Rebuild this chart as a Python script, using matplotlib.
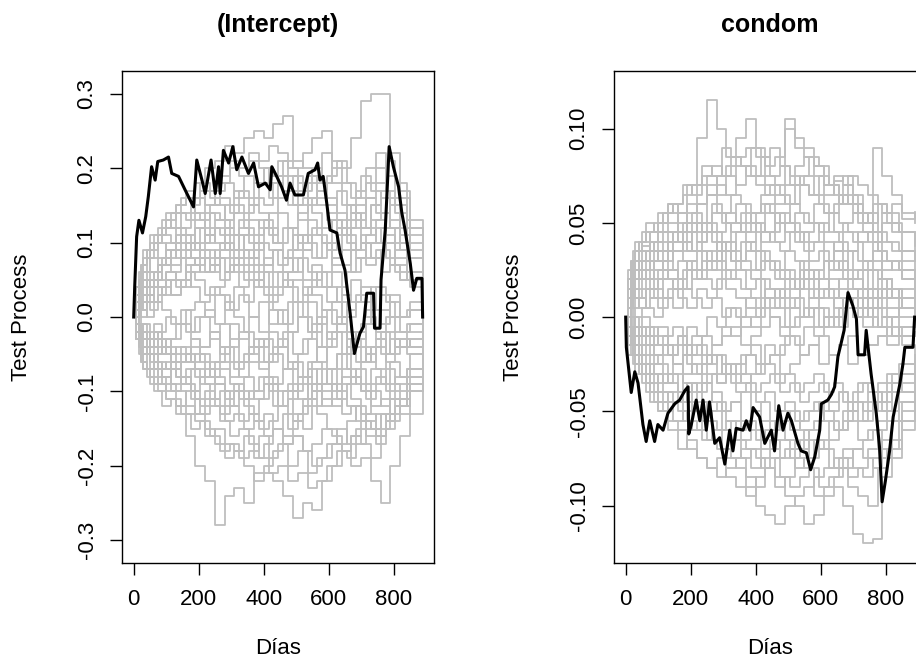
import numpy as np
import matplotlib
matplotlib.use("Agg")
import matplotlib.pyplot as plt

plt.rcParams['font.family'] = ['Liberation Sans', 'DejaVu Sans']

# two event-time grids for the grey (resampled) paths
grid_a = [0, 15, 30, 50, 75, 100, 130, 160, 190, 220, 250, 280, 310, 340, 370, 400,
          430, 460, 490, 520, 550, 580, 610, 640, 670, 700, 730, 760, 790, 820, 850, 889]
grid_b = [0, 8, 22, 40, 62, 88, 115, 145, 175, 205, 235, 265, 295, 325, 355, 385,
          415, 445, 475, 505, 535, 565, 595, 625, 655, 685, 715, 745, 775, 805, 840, 889]

# (Intercept) simulated paths, in hundredths
grey_left_a = [
    [0, 6, 9, 11, 12, 14, 15, 17, 18, 20, 21, 23, 22, 24, 25, 24, 26, 27, 21, 20, 19, 22, 18, 15, 14, 12, 15, 16, 12, 9, 6, 4],
    [0, 2, 4, 5, 7, 8, 10, 9, 12, 11, 13, 12, 15, 14, 16, 15, 18, 17, 19, 17, 20, 18, 21, 20, 24, 29, 30, 30, 22, 16, 12, 7],
    [0, 5, 8, 10, 11, 12, 14, 13, 16, 15, 17, 18, 16, 19, 18, 20, 19, 21, 20, 22, 24, 25, 20, 18, 16, 19, 17, 14, 12, 10, 8, 5],
    [0, -5, -7, -8, -9, -11, -13, -16, -20, -22, -28, -24, -23, -25, -21, -20, -18, -16, -14, -15, -12, -10, -12, -9, -8, -10, -7, -9, -6, -8, -5, -4],
    [0, -2, -4, -6, -8, -9, -10, -12, -13, -15, -17, -19, -18, -20, -22, -21, -22, -24, -27, -25, -26, -22, -20, -18, -16, -17, -19, -15, -13, -11, -9, -7],
    [0, -1, -3, -4, -6, -7, -8, -9, -11, -10, -12, -14, -13, -15, -14, -16, -15, -17, -16, -18, -17, -15, -16, -18, -20, -19, -22, -25, -20, -16, -13, -8],
    [0, 3, 6, 9, 11, 13, 15, 16, 14, 17, 15, 13, 14, 12, 11, 13, 10, 12, 9, 11, 8, 10, 7, 9, 6, 8, 10, 12, 13, 11, 8, 5],
    [0, 2, 3, 5, 4, 6, 5, 7, 8, 6, 9, 10, 8, 11, 9, 12, 10, 8, 11, 9, 12, 10, 13, 11, 14, 12, 15, 17, 15, 12, 9, 4],
    [0, -2, -1, -3, -2, 0, -1, 1, 2, 0, 3, 1, 4, 2, 5, 3, 1, -1, 2, 0, -2, 1, -1, 3, 2, 4, 1, 3, 0, -2, -1, -3],
    [0, 1, 3, 2, 4, 6, 5, 8, 7, 9, 8, 6, 7, 5, 4, 6, 3, 5, 2, 4, 3, 1, 2, 0, -2, -1, 1, -1, 2, 0, 1, 0],
    [0, -4, -7, -9, -10, -11, -12, -10, -13, -11, -9, -12, -10, -8, -11, -9, -12, -10, -13, -11, -9, -12, -10, -8, -11, -13, -10, -12, -9, -11, -8, -6],
    [0, -2, -4, -5, -7, -6, -8, -7, -5, -8, -6, -4, -7, -5, -3, -6, -4, -2, -5, -3, -1, -4, -2, -5, -3, -6, -4, -2, -5, -3, -4, -2],
    [0, 2, 4, 6, 8, 10, 12, 11, 13, 10, 12, 9, 11, 8, 10, 7, 9, 6, 8, 5, 7, 4, 6, 3, 5, 2, 4, 1, 3, 0, 2, 1],
    [0, -1, -2, -4, -3, -5, -4, -6, -8, -7, -9, -11, -10, -12, -14, -13, -15, -17, -16, -18, -20, -19, -17, -18, -16, -14, -15, -13, -11, -13, -10, -7],
    [0, 4, 6, 8, 10, 9, 11, 10, 12, 14, 13, 15, 17, 16, 18, 20, 19, 17, 15, 16, 14, 12, 13, 11, 9, 10, 8, 6, 7, 5, 4, 2],
    [0, -2, -3, -5, -4, -3, -1, -2, 0, 1, -1, 2, 0, -2, -4, -3, -5, -7, -6, -8, -10, -9, -11, -13, -12, -14, -15, -13, -11, -12, -9, -7],
    [0, 3, 5, 4, 7, 9, 8, 10, 9, 11, 10, 12, 11, 9, 7, 8, 6, 4, 5, 3, 5, 6, 8, 7, 9, 11, 13, 14, 16, 17, 12, 9],
    [0, -2, -5, -7, -9, -10, -12, -13, -14, -16, -15, -17, -18, -16, -19, -17, -15, -13, -14, -12, -10, -11, -9, -7, -8, -6, -4, -5, -3, -4, -3, -2],
    [0, 1, 2, 1, 3, 5, 4, 6, 5, 3, 4, 6, 8, 7, 5, 7, 9, 8, 6, 9, 11, 10, 8, 11, 12, 10, 8, 9, 7, 5, 6, 3],
    [0, -1, -3, -2, -5, -4, -6, -5, -7, -9, -8, -10, -9, -11, -10, -8, -9, -7, -10, -8, -6, -9, -7, -5, -8, -10, -12, -11, -14, -12, -10, -8],
]
grey_left_b = [
    [0, 4, 7, 9, 10, 11, 10, 12, 14, 13, 15, 16, 14, 17, 15, 18, 16, 19, 17, 15, 18, 16, 14, 17, 15, 13, 16, 14, 12, 10, 8, 6],
    [0, -3, -6, -7, -6, -7, -9, -8, -10, -12, -11, -13, -12, -10, -13, -11, -9, -12, -10, -8, -11, -9, -7, -10, -12, -14, -16, -13, -15, -12, -9, -6],
    [0, 1, 3, 5, 6, 8, 7, 9, 8, 10, 12, 11, 9, 12, 10, 13, 11, 14, 12, 10, 13, 11, 9, 12, 10, 8, 11, 13, 10, 8, 6, 3],
    [0, -1, -2, -3, -5, -4, -6, -5, -3, -4, -2, -5, -3, -6, -4, -7, -5, -3, -6, -8, -6, -4, -7, -5, -3, -6, -4, -7, -5, -3, -4, -3],
    [0, 3, 6, 8, 10, 12, 14, 16, 15, 17, 16, 18, 20, 19, 21, 20, 18, 21, 19, 17, 16, 18, 15, 13, 15, 17, 20, 22, 19, 15, 11, 7],
    [0, -3, -5, -8, -10, -12, -11, -13, -15, -14, -16, -18, -17, -19, -18, -16, -19, -17, -20, -18, -21, -19, -17, -15, -17, -15, -13, -16, -14, -12, -10, -6],
    [0, 2, 1, 3, 2, 4, 3, 5, 4, 2, 4, 3, 1, 3, 0, 2, -1, 1, -2, 0, 2, -1, 1, -1, 1, 3, 1, 4, 2, 0, 1, -1],
    [0, -1, 1, 0, 2, 1, -1, 1, -2, 0, -3, -1, -4, -2, -5, -3, -6, -4, -7, -5, -3, -6, -4, -2, -5, -3, -1, -3, -5, -3, -2, -1],
    [0, 4, 7, 9, 11, 13, 12, 14, 16, 18, 17, 19, 21, 20, 22, 21, 23, 22, 20, 18, 19, 17, 19, 21, 18, 16, 18, 20, 17, 14, 10, 6],
    [0, -2, -3, -5, -7, -8, -10, -9, -7, -9, -11, -10, -12, -14, -13, -15, -14, -12, -15, -13, -11, -13, -15, -17, -14, -12, -14, -16, -13, -10, -8, -5],
    [0, 1, 2, 4, 5, 7, 6, 8, 10, 9, 7, 9, 8, 6, 8, 10, 9, 7, 9, 11, 10, 8, 10, 12, 11, 9, 7, 9, 11, 9, 6, 4],
    [0, -2, -4, -3, -1, -3, -5, -4, -6, -4, -2, -4, -1, -3, 0, -2, 1, -1, 2, 0, -2, 0, -3, -1, -4, -2, -5, -3, -6, -4, -5, -3],
    [0, 3, 5, 4, 6, 5, 3, 5, 7, 6, 8, 10, 9, 11, 13, 12, 14, 16, 15, 13, 15, 17, 16, 14, 12, 14, 16, 18, 21, 18, 13, 8],
    [0, -1, -3, -5, -6, -8, -7, -9, -11, -13, -12, -14, -16, -15, -17, -19, -21, -20, -22, -21, -23, -22, -20, -18, -19, -17, -15, -17, -14, -12, -9, -6],
    [0, 2, 4, 3, 5, 7, 9, 8, 10, 8, 6, 8, 6, 4, 6, 4, 2, 4, 6, 8, 6, 4, 2, 4, 6, 8, 10, 12, 10, 7, 5, 2],
    [0, -2, -1, -3, -2, -4, -3, -1, -3, -5, -7, -6, -8, -6, -4, -6, -8, -10, -9, -11, -9, -7, -9, -11, -9, -7, -9, -8, -10, -8, -7, -5],
    [0, 3, 4, 6, 5, 7, 9, 11, 10, 12, 14, 13, 11, 13, 15, 14, 12, 10, 12, 14, 16, 15, 13, 11, 13, 15, 12, 10, 8, 6, 5, 3],
    [0, -3, -6, -7, -9, -8, -6, -8, -10, -8, -6, -4, -6, -8, -6, -4, -2, -4, -2, 0, -2, -4, -2, 0, -2, -4, -6, -4, -2, -4, -3, -2],
    [0, 1, 0, 2, 4, 3, 5, 4, 6, 8, 7, 5, 7, 9, 8, 6, 4, 6, 4, 2, 4, 6, 4, 2, 0, 2, 0, -2, 0, -2, -1, 0],
    [0, -1, -2, -4, -3, -5, -7, -6, -4, -6, -8, -7, -9, -11, -10, -8, -10, -12, -11, -9, -7, -9, -7, -5, -7, -9, -11, -9, -7, -9, -7, -5],
]

# condom simulated paths, in thousandths
grey_right_a = [
    [0, 20, 30, 35, 40, 45, 50, 55, 70, 95, 115, 100, 85, 95, 105, 90, 80, 85, 100, 90, 85, 80, 70, 65, 60, 55, 50, 60, 55, 50, 45, 38],
    [0, 25, 35, 40, 45, 55, 60, 50, 45, 60, 75, 70, 65, 80, 75, 70, 65, 60, 70, 80, 85, 75, 65, 75, 70, 60, 55, 90, 75, 65, 55, 50],
    [0, 30, 40, 38, 35, 40, 45, 55, 60, 70, 65, 75, 80, 85, 90, 85, 75, 70, 105, 95, 90, 80, 70, 72, 75, 60, 50, 45, 55, 60, 52, 56],
    [0, -10, -15, -20, -30, -40, -45, -50, -55, -60, -65, -70, -75, -80, -90, -100, -105, -110, -100, -95, -90, -85, -80, -75, -70, -80, -85, -75, -65, -55, -45, -35],
    [0, -5, -10, -15, -20, -25, -35, -40, -45, -50, -55, -60, -55, -65, -70, -75, -80, -85, -95, -100, -110, -105, -95, -90, -100, -115, -120, -118, -85, -75, -50, -30],
    [0, -15, -25, -30, -40, -50, -60, -70, -65, -75, -80, -85, -80, -75, -85, -90, -80, -75, -70, -80, -75, -65, -70, -80, -75, -70, -65, -60, -70, -65, -55, -32],
    [0, 20, 25, 30, 35, 30, 40, 45, 35, 40, 50, 45, 55, 50, 45, 55, 60, 50, 45, 55, 50, 60, 55, 45, 50, 55, 45, 40, 50, 45, 35, 30],
    [0, 10, 15, 20, 15, 25, 20, 30, 25, 20, 30, 35, 25, 30, 40, 35, 30, 25, 35, 30, 20, 25, 30, 35, 25, 20, 15, 25, 20, 15, 10, 12],
    [0, -5, 0, 5, 10, 5, 15, 10, 5, 15, 10, 20, 15, 10, 5, 0, 10, 5, -5, 0, 5, -5, 0, 10, 5, 0, -5, 5, 0, -10, -5, -2],
    [0, 5, -5, 0, -10, -5, -15, -10, -20, -15, -25, -20, -30, -25, -20, -30, -25, -35, -30, -40, -35, -30, -40, -35, -45, -40, -35, -45, -40, -30, -25, -20],
    [0, -10, -15, -25, -30, -35, -30, -40, -35, -45, -50, -45, -55, -60, -55, -65, -60, -55, -65, -70, -60, -55, -50, -60, -55, -45, -50, -40, -45, -35, -30, -25],
    [0, 15, 25, 20, 30, 35, 25, 20, 30, 25, 35, 30, 20, 25, 15, 20, 10, 15, 5, 10, 0, 5, -5, 0, 10, 5, 15, 10, 20, 15, 10, 5],
    [0, -5, -10, -5, -15, -10, -20, -15, -5, -10, 0, -5, 5, 0, 10, 5, 15, 10, 20, 15, 25, 20, 30, 25, 20, 15, 25, 30, 20, 10, 5, 0],
    [0, 10, 20, 30, 40, 50, 55, 45, 50, 40, 45, 35, 40, 30, 35, 25, 30, 20, 25, 15, 20, 10, 15, 5, 10, 0, 5, -5, 0, -10, -15, -20],
    [0, -20, -30, -35, -45, -50, -40, -45, -35, -40, -30, -35, -25, -30, -20, -25, -15, -20, -10, -15, -5, -10, 0, -5, 5, 0, 10, 5, 15, 10, 5, 0],
    [0, 15, 20, 25, 30, 35, 40, 45, 55, 60, 70, 65, 75, 70, 80, 75, 70, 65, 60, 70, 75, 65, 55, 60, 70, 65, 55, 45, 40, 35, 30, 20],
    [0, -10, -20, -30, -35, -45, -55, -60, -70, -75, -80, -75, -85, -90, -95, -85, -80, -90, -85, -75, -80, -95, -90, -85, -80, -70, -75, -80, -75, -70, -60, -40],
    [0, 5, 10, 15, 10, 20, 25, 15, 30, 35, 25, 40, 35, 45, 40, 50, 45, 55, 50, 40, 45, 50, 40, 35, 45, 40, 30, 35, 25, 30, 20, 15],
    [0, -5, -5, -10, -5, -15, -20, -10, -25, -30, -20, -35, -30, -40, -35, -45, -40, -50, -45, -55, -50, -45, -55, -60, -50, -45, -55, -40, -50, -35, -40, -25],
    [0, 30, 35, 45, 40, 50, 60, 55, 45, 50, 65, 55, 50, 60, 50, 45, 55, 40, 50, 45, 35, 40, 30, 40, 35, 25, 30, 40, 30, 25, 20, 10],
]
grey_right_b = [
    [0, 15, 25, 30, 35, 40, 35, 45, 40, 50, 45, 55, 50, 45, 55, 50, 40, 45, 55, 50, 45, 40, 50, 45, 40, 35, 45, 40, 35, 30, 25, 20],
    [0, -10, -15, -20, -25, -30, -35, -30, -40, -35, -45, -40, -50, -45, -55, -50, -45, -55, -50, -60, -55, -50, -45, -50, -40, -45, -35, -40, -45, -35, -30, -25],
    [0, 10, 20, 25, 20, 30, 25, 35, 30, 25, 35, 30, 40, 35, 30, 25, 35, 30, 25, 20, 30, 25, 20, 30, 25, 35, 30, 25, 20, 15, 10, 5],
    [0, -5, -10, -15, -10, -20, -15, -25, -20, -30, -25, -20, -30, -25, -35, -30, -25, -20, -30, -25, -20, -15, -25, -20, -15, -10, -20, -15, -10, -5, -10, -8],
    [0, 20, 30, 40, 45, 50, 55, 60, 65, 70, 75, 80, 75, 85, 80, 75, 85, 90, 80, 75, 70, 65, 75, 70, 60, 65, 55, 50, 60, 55, 45, 35],
    [0, -15, -20, -25, -35, -40, -45, -55, -50, -60, -55, -65, -70, -65, -75, -70, -80, -75, -85, -90, -85, -80, -90, -85, -80, -90, -95, -100, -80, -70, -55, -40],
    [0, 5, 10, 5, 15, 10, 20, 15, 25, 20, 30, 25, 35, 30, 25, 20, 30, 25, 20, 15, 25, 20, 15, 10, 20, 15, 10, 5, 15, 10, 5, 2],
    [0, -5, 0, -10, -5, -15, -10, -5, -15, -10, -20, -15, -10, -5, -15, -10, -5, 0, -10, -5, 0, 5, -5, 0, 5, 10, 0, 5, -5, 0, -5, -3],
    [0, 25, 35, 40, 50, 45, 55, 60, 70, 65, 80, 75, 90, 85, 80, 90, 85, 75, 80, 70, 75, 85, 80, 70, 65, 75, 70, 65, 60, 50, 45, 40],
    [0, -20, -25, -30, -40, -45, -50, -45, -55, -60, -65, -60, -70, -75, -70, -80, -75, -70, -65, -75, -70, -60, -65, -55, -60, -50, -55, -45, -50, -40, -35, -28],
    [0, 10, 15, 10, 20, 15, 10, 20, 15, 25, 20, 15, 25, 20, 15, 10, 20, 15, 10, 5, 15, 10, 20, 15, 10, 5, 15, 10, 5, 0, 5, 3],
    [0, -10, -5, -15, -10, -20, -15, -25, -30, -25, -35, -30, -25, -35, -30, -40, -35, -30, -40, -35, -45, -40, -35, -45, -40, -50, -45, -40, -35, -30, -25, -20],
    [0, 15, 20, 25, 30, 25, 35, 40, 35, 45, 50, 45, 40, 50, 45, 55, 60, 55, 50, 60, 55, 50, 45, 55, 50, 45, 40, 45, 35, 30, 25, 15],
    [0, -5, -15, -20, -15, -25, -30, -25, -35, -40, -35, -45, -50, -45, -40, -50, -55, -60, -55, -50, -60, -65, -70, -65, -60, -55, -65, -60, -55, -50, -40, -30],
    [0, 5, 15, 20, 25, 20, 30, 35, 40, 35, 45, 40, 35, 30, 40, 35, 45, 40, 35, 45, 40, 30, 35, 25, 30, 20, 25, 15, 20, 10, 15, 10],
    [0, -10, -20, -25, -30, -25, -20, -25, -15, -20, -10, -15, -5, -10, 0, -5, 5, 0, -5, 5, 0, 10, 5, 0, -5, 5, 10, 0, -5, -10, -5, -5],
    [0, 20, 25, 35, 30, 40, 45, 40, 50, 55, 50, 60, 55, 65, 60, 55, 65, 70, 65, 60, 70, 65, 60, 55, 65, 60, 50, 55, 45, 40, 35, 30],
    [0, -15, -20, -30, -35, -30, -40, -45, -40, -50, -55, -50, -60, -55, -65, -60, -70, -65, -75, -70, -65, -75, -70, -80, -75, -85, -80, -70, -60, -55, -45, -35],
    [0, 0, 5, 10, 5, 0, 10, 5, 15, 10, 5, 10, 0, 5, -5, 0, 10, 5, 15, 10, 20, 15, 10, 20, 15, 10, 5, 15, 10, 5, 0, 0],
    [0, -5, -10, -5, -15, -20, -15, -25, -20, -15, -25, -20, -30, -25, -20, -15, -25, -20, -15, -10, -20, -15, -10, -20, -15, -25, -20, -15, -10, -15, -10, -10],
]

# observed process, (Intercept)
obs_left_days = [0, 3, 9, 16, 27, 37, 45, 55, 66, 74, 91, 107, 117, 138, 158, 184, 194, 210, 220, 238,
                 251, 261, 266, 276, 292, 305, 317, 333, 353, 369, 384, 405, 420, 425, 440, 455, 470, 481, 496, 522,
                 537, 558, 566, 573, 583, 594, 604, 625, 635, 650, 666, 679, 696, 707, 717, 738, 741, 758, 761, 774,
                 786, 799, 815, 825, 835, 851, 861, 871, 887, 889]
obs_left = [0, 0.04, 0.108, 0.13, 0.113, 0.135, 0.162, 0.202, 0.184, 0.209,
            0.211, 0.215, 0.193, 0.189, 0.171, 0.148, 0.211, 0.184, 0.166, 0.211,
            0.166, 0.202, 0.166, 0.224, 0.207, 0.229, 0.198, 0.215, 0.193, 0.207,
            0.175, 0.180, 0.171, 0.202, 0.189, 0.175, 0.157, 0.18, 0.164, 0.164,
            0.193, 0.198, 0.207, 0.184, 0.189, 0.153, 0.117, 0.113, 0.086, 0.063,
            0.005, -0.049, -0.022, -0.013, 0.032, 0.032, -0.015, -0.015, 0.05, 0.117,
            0.229, 0.202, 0.175, 0.14, 0.117, 0.072, 0.036, 0.052, 0.052, 0]

# observed process, condom
obs_right_days = [0, 2, 12, 17, 28, 38, 53, 63, 74, 89, 99, 115, 130, 151, 166, 182, 192, 194, 202, 217,
                  228, 238, 248, 258, 274, 289, 305, 320, 330, 340, 361, 371, 382, 392, 412, 428, 448, 458, 471, 484,
                  499, 510, 530, 540, 556, 569, 582, 597, 602, 622, 633, 643, 653, 664, 672, 684, 699, 710, 715, 735,
                  740, 755, 771, 781, 789, 799, 812, 823, 843, 853, 859, 884, 889]
obs_right = [0, -0.016, -0.032, -0.040, -0.029, -0.035, -0.057, -0.066, -0.055, -0.066,
             -0.057, -0.060, -0.051, -0.046, -0.044, -0.039, -0.037, -0.062, -0.057, -0.044,
             -0.055, -0.044, -0.060, -0.045, -0.067, -0.064, -0.078, -0.060, -0.071, -0.059,
             -0.060, -0.055, -0.060, -0.048, -0.053, -0.067, -0.060, -0.071, -0.047, -0.060,
             -0.051, -0.055, -0.067, -0.071, -0.072, -0.081, -0.074, -0.060, -0.046, -0.044,
             -0.041, -0.037, -0.021, -0.013, -0.007, 0.013, 0.006, -0.001, -0.020, -0.020,
             -0.007, -0.030, -0.051, -0.069, -0.098, -0.087, -0.071, -0.053, -0.036, -0.025,
             -0.016, -0.016, 0]

xticks = [0, 200, 400, 600, 800]
left_yticks = [-0.3, -0.2, -0.1, 0.0, 0.1, 0.2, 0.3]
left_ylabels = ['-0.3', '-0.2', '-0.1', '0.0', '0.1', '0.2', '0.3']
right_yticks = [-0.10, -0.05, 0.0, 0.05, 0.10]
right_ylabels = ['-0.10', '-0.05', '0.00', '0.05', '0.10']


def panel(ax, grey_a, grey_b, scale, days, obs, title, ylim, yticks, ylabels):
    for p in grey_a:
        ax.plot(grid_a, np.array(p) * scale, color='#bebebe', lw=1.3,
                drawstyle='steps-post')
    for p in grey_b:
        ax.plot(grid_b, np.array(p) * scale, color='#bebebe', lw=1.3,
                drawstyle='steps-post')
    ax.plot(days, obs, color='black', lw=2.2)
    ax.set_xlim(-36, 924)
    ax.set_ylim(*ylim)
    ax.set_xticks(xticks)
    ax.set_xticklabels([str(t) for t in xticks])
    ax.set_yticks(yticks)
    ax.set_yticklabels(ylabels, rotation=90, va='center')
    ax.tick_params(length=8.6, width=1, labelsize=16, color='black')
    ax.tick_params(axis='x', pad=10)
    ax.tick_params(axis='y', pad=9)
    for s in ax.spines.values():
        s.set_linewidth(1)
        s.set_color('black')
    ax.set_title(title, fontsize=18, fontweight='bold', pad=28)
    ax.set_xlabel('Días', fontsize=16, va='top')
    ax.xaxis.set_label_coords(0.5, -0.152)
    ax.set_ylabel('Test Process', fontsize=16)
    ax.yaxis.set_label_coords(-0.29, 0.5)


fig = plt.figure(figsize=(9.16, 6.62), dpi=100)
ax1 = fig.add_axes([0.1332, 0.1495, 0.3406, 0.7432])
ax2 = fig.add_axes([0.6703, 0.1495, 0.3406, 0.7432])

panel(ax1, grey_left_a, grey_left_b, 0.01, obs_left_days, obs_left, '(Intercept)',
      (-0.3306, 0.3306), left_yticks, left_ylabels)
panel(ax2, grey_right_a, grey_right_b, 0.001, obs_right_days, obs_right, 'condom',
      (-0.1305, 0.1306), right_yticks, right_ylabels)

fig.savefig('out.png', dpi=100)
